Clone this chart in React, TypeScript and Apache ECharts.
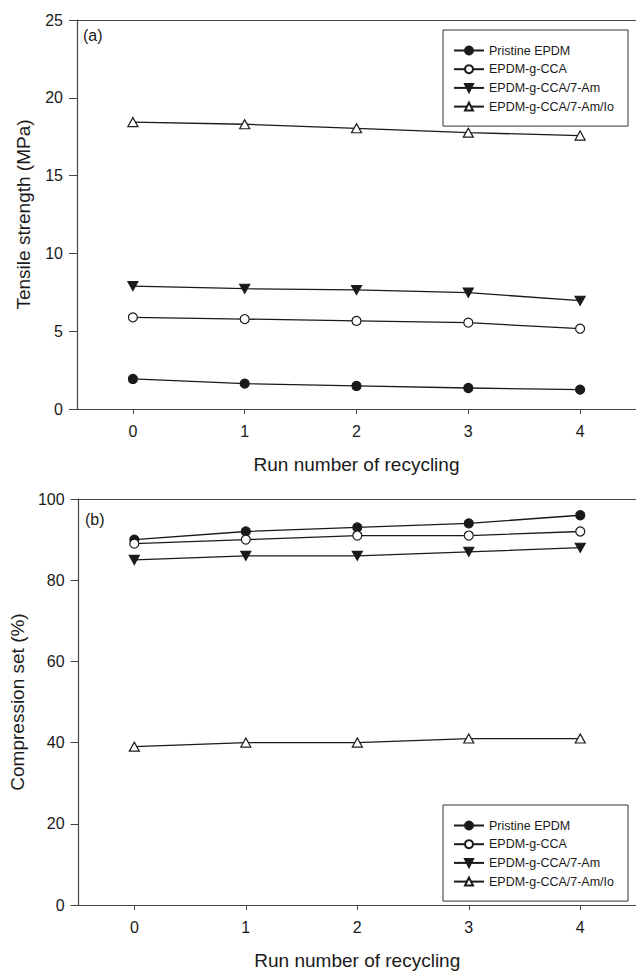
import React, { useEffect, useRef } from "react";
import * as echarts from "echarts";

const runs = ["0", "1", "2", "3", "4"];
const seriesNames = ["Pristine EPDM", "EPDM-g-CCA", "EPDM-g-CCA/7-Am", "EPDM-g-CCA/7-Am/Io"];

// (a) Tensile strength (MPa)
const tensilePristine = [1.93, 1.63, 1.48, 1.35, 1.24];
const tensileCCA = [5.89, 5.78, 5.66, 5.55, 5.16];
const tensileAm = [7.9, 7.73, 7.65, 7.48, 6.96];
const tensileAmIo = [18.44, 18.3, 18.04, 17.76, 17.57];

// (b) Compression set (%)
const compPristine = [90, 92, 93, 94, 96];
const compCCA = [89, 90, 91, 91, 92];
const compAm = [85, 86, 86, 87, 88];
const compAmIo = [39, 40, 40, 41, 41];

const tensileTicks = { min: 0, max: 25, interval: 5 };
const compTicks = { min: 0, max: 100, interval: 20 };

const FONT = "Liberation Sans, Arial, sans-serif";
const INK = "#1a1a1a";
const AXIS = "#444";

const markerStyles = [
  { symbol: "circle", symbolSize: 9, fill: INK },
  { symbol: "circle", symbolSize: 9, fill: "#ffffff" },
  { symbol: "path://M0,0L10,0L5,9Z", symbolSize: [10, 9], fill: INK },
  { symbol: "triangle", symbolSize: [10, 9], fill: "#ffffff" },
];

export default function App() {
  const ref = useRef<HTMLDivElement>(null);

  useEffect(() => {
    if (!ref.current) return;
    const chart = echarts.init(ref.current, undefined, { renderer: "svg" });

    const makeSeries = (data: number[], idx: number, grid: number) => ({
      type: "line",
      name: seriesNames[idx],
      xAxisIndex: grid,
      yAxisIndex: grid,
      data,
      symbol: markerStyles[idx].symbol,
      symbolSize: markerStyles[idx].symbolSize,
      showAllSymbol: true,
      lineStyle: { color: INK, width: 1.3 },
      itemStyle: { color: markerStyles[idx].fill, borderColor: INK, borderWidth: 1.2 },
      emphasis: { disabled: true },
    });

    const xAxisBase = (grid: number) => ({
      type: "category",
      gridIndex: grid,
      data: runs,
      boundaryGap: true,
      name: "Run number of recycling",
      nameLocation: "middle",
      nameGap: 46,
      nameTextStyle: { fontFamily: FONT, fontSize: 19, color: INK },
      axisLine: { show: true, lineStyle: { color: AXIS, width: 1.2 } },
      axisTick: { show: true, alignWithLabel: true, length: 5, lineStyle: { color: AXIS } },
      axisLabel: { fontFamily: FONT, fontSize: 16, color: INK, margin: 14 },
      splitLine: { show: false },
    });

    const topAxis = (grid: number) => ({
      type: "category",
      gridIndex: grid,
      position: "top",
      data: runs,
      boundaryGap: true,
      axisLine: { show: true, lineStyle: { color: AXIS, width: 1.2 } },
      axisTick: { show: false },
      axisLabel: { show: false },
      splitLine: { show: false },
    });

    const yAxisBase = (grid: number, name: string, t: { min: number; max: number; interval: number }) => ({
      type: "value",
      gridIndex: grid,
      min: t.min,
      max: t.max,
      interval: t.interval,
      name,
      nameLocation: "middle",
      nameGap: 44,
      nameTextStyle: { fontFamily: FONT, fontSize: 19, color: INK },
      axisLine: { show: true, lineStyle: { color: AXIS, width: 1.2 } },
      axisTick: { show: true, length: 8, lineStyle: { color: AXIS } },
      axisLabel: { fontFamily: FONT, fontSize: 16, color: INK, margin: 14 },
      splitLine: { show: false },
    });

    const legendBase = (top: number) => ({
      orient: "vertical",
      left: 443,
      top,
      itemWidth: 30,
      itemHeight: 10,
      itemGap: 5.7,
      padding: [14, 14, 13, 10],
      borderColor: "#333",
      borderWidth: 1,
      selectedMode: false,
      textStyle: { fontFamily: FONT, fontSize: 12.5, color: INK },
      data: seriesNames,
    });

    chart.setOption({
      animation: false,
      backgroundColor: "#ffffff",
      grid: [
        { left: 77, top: 20, width: 562, height: 389, show: false },
        { left: 77, top: 499, width: 562, height: 407, show: false },
      ],
      xAxis: [xAxisBase(0), xAxisBase(1), topAxis(0), topAxis(1)],
      yAxis: [
        yAxisBase(0, "Tensile strength (MPa)", tensileTicks),
        yAxisBase(1, "Compression set (%)", compTicks),
      ],
      legend: [legendBase(30), legendBase(805)],
      graphic: [
        { type: "text", left: 83, top: 27, style: { text: "(a)", font: `16px ${FONT}`, fill: INK } },
        { type: "text", left: 85, top: 511, style: { text: "(b)", font: `16px ${FONT}`, fill: INK } },
      ],
      series: [
        makeSeries(tensilePristine, 0, 0),
        makeSeries(tensileCCA, 1, 0),
        makeSeries(tensileAm, 2, 0),
        makeSeries(tensileAmIo, 3, 0),
        makeSeries(compPristine, 0, 1),
        makeSeries(compCCA, 1, 1),
        makeSeries(compAm, 2, 1),
        makeSeries(compAmIo, 3, 1),
      ],
    });

    return () => chart.dispose();
  }, []);

  return (
    <div
      ref={ref}
      style={{ position: "fixed", left: 0, top: 0, width: 636, height: 971, background: "#fff", overflow: "hidden" }}
    />
  );
}
